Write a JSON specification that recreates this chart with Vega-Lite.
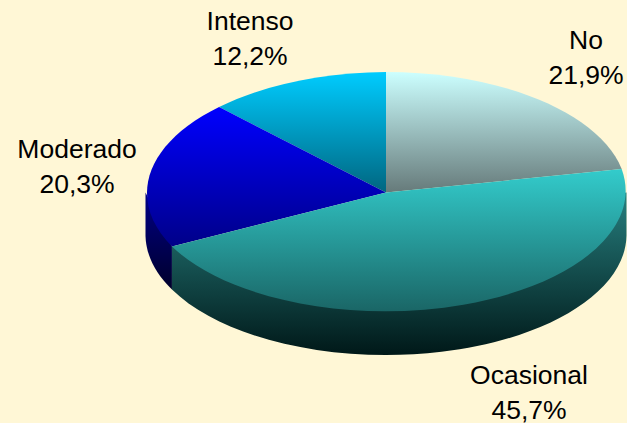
{
"$schema":"https://vega.github.io/schema/vega-lite/v6.json",
"width":627,"height":423,"padding":0,"autosize":{"type":"none"},
"background":"#fff7d6",
"view":{"stroke":null},
"config":{"text":{"font":"Liberation Sans"}},
"data":{"values":[
{"name":"No","value":21.9,"label":"No\n21,9%"},
{"name":"Ocasional","value":45.7,"label":"Ocasional\n45,7%"},
{"name":"Moderado","value":20.3,"label":"Moderado\n20,3%"},
{"name":"Intenso","value":12.2,"label":"Intenso\n12,2%"}
]},
"encoding":{
"x":{"datum":0,"type":"quantitative","scale":{"domain":[-386,241]},"axis":null},
"y":{"datum":0,"type":"quantitative","scale":{"domain":[-192.5,230.5],"reverse":true},"axis":null},
"tooltip":{"field":"value","type":"quantitative"}
},
"layer":[
{"transform":[{"filter":"datum.name==='Moderado'"}],
"mark":{"type":"point","filled":true,"opacity":1,"size":231361,"strokeWidth":0,
"shape":"M-1,0 L-0.89,0.2245 L-0.89,0.4035 A1,0.501 0 0 1 -1,0.179 Z",
"fill":{"gradient":"linear","x1":0,"y1":0,"x2":0,"y2":1,"stops":[{"offset":0,"color":"#000088"},{"offset":1,"color":"#00002a"}]}}},
{"transform":[{"filter":"datum.name==='Ocasional'"}],
"mark":{"type":"point","filled":true,"opacity":1,"size":231361,"strokeWidth":0,
"shape":"M1,0 L-0.89,0.2245 L-0.89,0.4035 A1,0.501 0 0 0 1,0.179 Z",
"fill":{"gradient":"linear","x1":0,"y1":0,"x2":0,"y2":1,"stops":[{"offset":0,"color":"#268080"},{"offset":0.3,"color":"#1b6060"},{"offset":1,"color":"#001818"}]}}},
{"transform":[{"filter":"datum.name==='No'"}],
"mark":{"type":"point","filled":true,"opacity":1,"size":231361,"strokeWidth":0,
"shape":"M0,0 L0,-0.501 A1,0.501 0 0 1 0.98,-0.0977 Z",
"fill":{"gradient":"linear","x1":0,"y1":0,"x2":0,"y2":1,"stops":[{"offset":0,"color":"#ccffff"},{"offset":1,"color":"#667a7a"}]}}},
{"transform":[{"filter":"datum.name==='Intenso'"}],
"mark":{"type":"point","filled":true,"opacity":1,"size":231361,"strokeWidth":0,
"shape":"M0,0 L-0.694,-0.3555 A1,0.501 0 0 1 0,-0.501 Z",
"fill":{"gradient":"linear","x1":0,"y1":0,"x2":0,"y2":1,"stops":[{"offset":0,"color":"#00ccff"},{"offset":1,"color":"#006680"}]}}},
{"transform":[{"filter":"datum.name==='Moderado'"}],
"mark":{"type":"point","filled":true,"opacity":1,"size":231361,"strokeWidth":0,
"shape":"M0,0 L-0.89,0.2245 A1,0.501 0 0 1 -0.694,-0.3555 Z",
"fill":{"gradient":"linear","x1":0,"y1":0,"x2":0,"y2":1,"stops":[{"offset":0,"color":"#0000ff"},{"offset":1,"color":"#000088"}]}}},
{"transform":[{"filter":"datum.name==='Ocasional'"}],
"mark":{"type":"point","filled":true,"opacity":1,"size":231361,"strokeWidth":0,
"shape":"M0,0 L0.98,-0.0977 A1,0.501 0 0 1 -0.89,0.2245 Z",
"fill":{"gradient":"linear","x1":0,"y1":0,"x2":0,"y2":1,"stops":[{"offset":0,"color":"#33cccc"},{"offset":1,"color":"#1a6666"}]}}},
{"transform":[{"filter":"datum.name==='Intenso'"}],
"mark":{"type":"text","fontSize":26.5,"lineBreak":"\n","lineHeight":34.5,"color":"#000000","baseline":"middle"},
"encoding":{"text":{"field":"label"},
"x":{"datum":-136,"type":"quantitative","scale":{"domain":[-386,241]},"axis":null},
"y":{"datum":-170.5,"type":"quantitative","scale":{"domain":[-192.5,230.5],"reverse":true},"axis":null}}},
{"transform":[{"filter":"datum.name==='No'"}],
"mark":{"type":"text","fontSize":26.5,"lineBreak":"\n","lineHeight":34.5,"color":"#000000","baseline":"middle"},
"encoding":{"text":{"field":"label"},
"x":{"datum":200,"type":"quantitative","scale":{"domain":[-386,241]},"axis":null},
"y":{"datum":-151.5,"type":"quantitative","scale":{"domain":[-192.5,230.5],"reverse":true},"axis":null}}},
{"transform":[{"filter":"datum.name==='Moderado'"}],
"mark":{"type":"text","fontSize":26.5,"lineBreak":"\n","lineHeight":34.5,"color":"#000000","baseline":"middle"},
"encoding":{"text":{"field":"label"},
"x":{"datum":-309,"type":"quantitative","scale":{"domain":[-386,241]},"axis":null},
"y":{"datum":-42.5,"type":"quantitative","scale":{"domain":[-192.5,230.5],"reverse":true},"axis":null}}},
{"transform":[{"filter":"datum.name==='Ocasional'"}],
"mark":{"type":"text","fontSize":26.5,"lineBreak":"\n","lineHeight":34.5,"color":"#000000","baseline":"middle"},
"encoding":{"text":{"field":"label"},
"x":{"datum":143,"type":"quantitative","scale":{"domain":[-386,241]},"axis":null},
"y":{"datum":183.5,"type":"quantitative","scale":{"domain":[-192.5,230.5],"reverse":true},"axis":null}}}
]
}
